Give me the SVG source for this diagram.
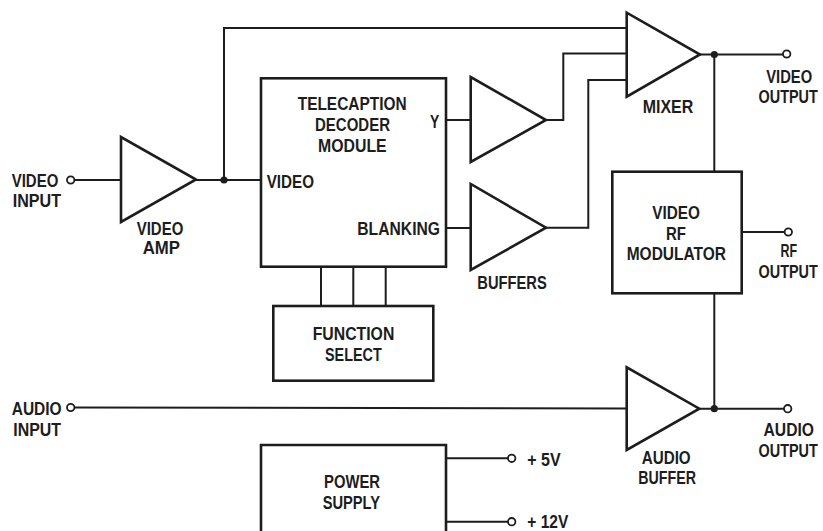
<svg xmlns="http://www.w3.org/2000/svg" width="823" height="531" viewBox="0 0 823 531">
<defs>
<style>
.t{font-family:"Liberation Sans",Arial,sans-serif;font-weight:bold;font-size:18.5px;fill:#1d1d1d}
.box{fill:none;stroke:#1d1d1d;stroke-width:2.6}
.tri{fill:none;stroke:#1d1d1d;stroke-width:2.6;stroke-linejoin:miter}
.w{fill:none;stroke:#1d1d1d;stroke-width:2}
.term{fill:#fff;stroke:#1d1d1d;stroke-width:1.8}
.dot{fill:#1d1d1d}
</style>
</defs>
<rect width="823" height="531" fill="#fff"/>

<g id="connectors">
<path class="w" d="M74.4,180 H121"/>
<path class="w" d="M196,180 H261"/>
<path class="w" d="M224,180 V28 H626.7"/>
<path class="w" d="M446,120 H470.7"/>
<path class="w" d="M546,120 H563.3 V53.5 H626.7"/>
<path class="w" d="M446,228 H470.7"/>
<path class="w" d="M546,227.7 H588.3 V80 H626.7"/>
<path class="w" d="M321,266.7 V306 M353.3,266.7 V306 M385.7,266.7 V306"/>
<path class="w" d="M700,54.5 H783"/>
<path class="w" d="M714.3,54.5 V171.7"/>
<path class="w" d="M741.7,232 H784.6"/>
<path class="w" d="M714.3,293.3 V408.7"/>
<path class="w" d="M74.4,407.5 L626.7,408.5"/>
<path class="w" d="M699.3,408.7 H784"/>
<path class="w" d="M446,458.3 H508"/>
<path class="w" d="M446,521.7 H508"/>
<circle class="dot" cx="224" cy="180" r="3.6"/>
<circle class="dot" cx="714.3" cy="54.5" r="3.6"/>
<circle class="dot" cx="714.3" cy="408.7" r="3.6"/>
</g>

<g id="video-input">
<circle class="term" cx="70.7" cy="180" r="3.7"/>
<text class="t" x="11.7" y="186.7" textLength="46.6" lengthAdjust="spacingAndGlyphs">VIDEO</text>
<text class="t" x="12.7" y="207.3" textLength="48.3" lengthAdjust="spacingAndGlyphs">INPUT</text>
</g>

<g id="video-amp">
<path class="tri" d="M121,137 L121,222 L196,179.5 Z"/>
<text class="t" x="136.7" y="235" textLength="46.6" lengthAdjust="spacingAndGlyphs">VIDEO</text>
<text class="t" x="142.7" y="254" textLength="37.3" lengthAdjust="spacingAndGlyphs">AMP</text>
</g>

<g id="decoder">
<rect class="box" x="261" y="78.3" width="185" height="188.4"/>
<text class="t" x="297.7" y="110" textLength="109" lengthAdjust="spacingAndGlyphs">TELECAPTION</text>
<text class="t" x="315" y="130.7" textLength="75" lengthAdjust="spacingAndGlyphs">DECODER</text>
<text class="t" x="318" y="151.7" textLength="68.7" lengthAdjust="spacingAndGlyphs">MODULE</text>
<text class="t" x="266.7" y="188.3" textLength="47.3" lengthAdjust="spacingAndGlyphs">VIDEO</text>
<text class="t" x="430" y="128.3" textLength="9.3" lengthAdjust="spacingAndGlyphs">Y</text>
<text class="t" x="357.3" y="235" textLength="82.7" lengthAdjust="spacingAndGlyphs">BLANKING</text>
</g>

<g id="function-select">
<rect class="box" x="273.3" y="306" width="160" height="74.7"/>
<text class="t" x="312.7" y="340" textLength="81.6" lengthAdjust="spacingAndGlyphs">FUNCTION</text>
<text class="t" x="325" y="360.7" textLength="56.7" lengthAdjust="spacingAndGlyphs">SELECT</text>
</g>

<g id="buffer-y">
<path class="tri" d="M470.7,77 L470.7,162 L546,120 Z"/>
</g>

<g id="buffer-blanking">
<path class="tri" d="M470.7,184 L470.7,270 L546,227.7 Z"/>
<text class="t" x="477.3" y="289.3" textLength="69.4" lengthAdjust="spacingAndGlyphs">BUFFERS</text>
</g>

<g id="mixer">
<path class="tri" d="M626.7,12.7 L626.7,96.7 L700,54.5 Z"/>
<text class="t" x="642.7" y="112.7" textLength="50.6" lengthAdjust="spacingAndGlyphs">MIXER</text>
</g>

<g id="video-output">
<circle class="term" cx="786.7" cy="54" r="3.7"/>
<text class="t" x="766.2" y="82.7" textLength="46" lengthAdjust="spacingAndGlyphs">VIDEO</text>
<text class="t" transform="translate(758.5,103.3) scale(0.78,1)">OUTPUT</text>
</g>

<g id="rf-modulator">
<rect class="box" x="612.3" y="171.7" width="129.4" height="121.6"/>
<text class="t" x="652.3" y="219.3" textLength="47.7" lengthAdjust="spacingAndGlyphs">VIDEO</text>
<text class="t" x="666" y="240" textLength="20" lengthAdjust="spacingAndGlyphs">RF</text>
<text class="t" x="626.7" y="260" textLength="99.3" lengthAdjust="spacingAndGlyphs">MODULATOR</text>
</g>

<g id="rf-output">
<circle class="term" cx="788.3" cy="232" r="3.7"/>
<text class="t" x="780.5" y="256.7" textLength="16.6" lengthAdjust="spacingAndGlyphs">RF</text>
<text class="t" transform="translate(758.5,278.3) scale(0.78,1)">OUTPUT</text>
</g>

<g id="audio-input">
<circle class="term" cx="70.7" cy="407.5" r="3.7"/>
<text class="t" x="11.7" y="415" textLength="50" lengthAdjust="spacingAndGlyphs">AUDIO</text>
<text class="t" x="13.3" y="436" textLength="47.7" lengthAdjust="spacingAndGlyphs">INPUT</text>
</g>

<g id="audio-buffer">
<path class="tri" d="M626.7,367.3 L626.7,450 L699.3,408.7 Z"/>
<text class="t" x="641.7" y="464" textLength="49" lengthAdjust="spacingAndGlyphs">AUDIO</text>
<text class="t" x="638.3" y="484" textLength="57.7" lengthAdjust="spacingAndGlyphs">BUFFER</text>
</g>

<g id="audio-output">
<circle class="term" cx="787.7" cy="408.7" r="3.7"/>
<text class="t" x="763.5" y="436" textLength="50.5" lengthAdjust="spacingAndGlyphs">AUDIO</text>
<text class="t" transform="translate(758.5,456.7) scale(0.78,1)">OUTPUT</text>
</g>

<g id="power-supply">
<path class="box" d="M261,533 V445 H446 V533"/>
<text class="t" x="324" y="488.3" textLength="56" lengthAdjust="spacingAndGlyphs">POWER</text>
<text class="t" x="322.7" y="509.3" textLength="57.3" lengthAdjust="spacingAndGlyphs">SUPPLY</text>
</g>

<g id="out-5v">
<circle class="term" cx="511.7" cy="458.3" r="3.7"/>
<text class="t" x="527.3" y="466" textLength="33.4" lengthAdjust="spacingAndGlyphs">+ 5V</text>
</g>

<g id="out-12v">
<circle class="term" cx="511.7" cy="521.7" r="3.7"/>
<text class="t" x="527.3" y="528.3" textLength="41" lengthAdjust="spacingAndGlyphs">+ 12V</text>
</g>
</svg>
